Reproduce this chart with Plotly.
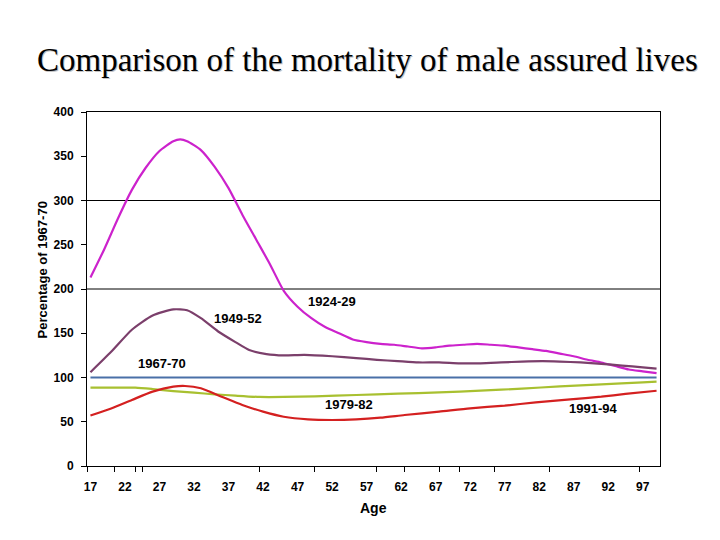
import plotly.graph_objects as go

# ---- data ----
ages_1924 = [17, 19, 21, 23, 25, 27, 29, 30, 31, 33, 35, 37, 39, 41, 43, 45, 47, 49, 51, 53, 55, 57, 59, 61, 63, 65, 67, 69, 71, 73, 75, 77, 79, 81, 83, 85, 87, 89, 91, 93, 95, 97, 99]
vals_1924 = [213, 245, 280, 312, 337, 356, 367, 369, 367, 357, 338, 314, 284, 256, 228, 198, 180, 167, 157, 150, 143, 140, 138, 137, 135, 133, 134, 136, 137, 138, 137, 136, 134, 132, 130, 127, 124, 120, 117, 113, 109, 107, 105]

ages_1949 = [17, 20, 23, 26, 29, 31, 33, 35.5, 38, 40, 42.5, 45, 48, 52, 55.5, 58.5, 61.5, 64.5, 67.5, 70.5, 73.5, 76.5, 79.5, 82.5, 85, 88, 91, 94, 97, 99]
vals_1949 = [106, 129, 154, 170, 177, 176, 167, 152, 140, 131, 126.5, 125, 125.5, 124, 122, 120, 118.5, 117, 117, 116, 116, 117, 118, 118.5, 118, 117, 115.5, 113.5, 111.5, 110]

ages_1967 = [17, 99]
vals_1967 = [100, 100]

ages_1979 = [17, 23.5, 26, 29, 32, 35, 38, 41.5, 45, 49.5, 55.5, 61.5, 67.5, 73.5, 79.5, 85, 91, 97, 99]
vals_1979 = [88.5, 88.5, 87, 84.7, 82.9, 81, 79.5, 78, 78, 78.7, 80.2, 81.7, 83.2, 85.1, 87.4, 90, 92.3, 94.5, 95.3]

ages_1991 = [17, 20, 23, 26, 29, 30.7, 33, 36, 39, 42, 45, 48.5, 52, 55.5, 59, 62.5, 67.5, 72, 77, 81.5, 86.5, 91, 94.5, 99]
vals_1991 = [57, 65, 74.6, 84, 89.6, 90.4, 87.8, 78.3, 69, 61.4, 55.7, 52.7, 52, 52.7, 54.6, 57.6, 61.4, 65.2, 68.2, 71.9, 75.3, 78.3, 81.4, 85]

x_ticks = [17, 22, 27, 32, 37, 42, 47, 52, 57, 62, 67, 72, 77, 82, 87, 92, 97]
x_tickmarks = [16.5, 20.5, 23.5, 24.5, 41.5, 49.5, 58.5, 62.5, 67.5, 70.5, 75.5, 83.5, 96.5]
y_ticks = [0, 50, 100, 150, 200, 250, 300, 350, 400]
grid_levels = [200, 300]

series_labels = ["1924-29", "1949-52", "1967-70", "1979-82", "1991-94"]
label_ages = [52.0, 38.3, 27.3, 54.4, 89.8]
label_vals = [186, 167, 116, 69, 65.5]

colors = ["#CC22CC", "#7B3F6B", "#4A70A8", "#A8C030", "#D42020"]

fig = go.Figure()
all_x = [ages_1924, ages_1949, ages_1967, ages_1979, ages_1991]
all_y = [vals_1924, vals_1949, vals_1967, vals_1979, vals_1991]

# gridlines at 200 and 300
for g in grid_levels:
    fig.add_trace(go.Scatter(x=[16.5, 99.5], y=[g, g], mode="lines",
                             line=dict(color="black", width=1), hoverinfo="skip",
                             showlegend=False))

for name, xs, ys, c in zip(series_labels, all_x, all_y, colors):
    fig.add_trace(go.Scatter(x=xs, y=ys, mode="lines", name=name,
                             line=dict(color=c, width=2.2, shape="spline", smoothing=0.6),
                             showlegend=False))

# invisible trace on overlay axis for irregular tick marks
fig.add_trace(go.Scatter(x=[16.5, 99.5], y=[0, 0], xaxis="x2", mode="lines",
                         line=dict(width=0), hoverinfo="skip", showlegend=False))

for t, ax, ay in zip(series_labels, label_ages, label_vals):
    fig.add_annotation(x=ax, y=ay, text=t, showarrow=False,
                       font=dict(family="Liberation Sans, Arial", size=13, color="black", weight="bold"))

title = "Comparison of the mortality of male assured lives"
fig.add_annotation(xref="paper", yref="paper", x=0.5, y=1, yanchor="middle", xanchor="center",
                   xshift=-5, yshift=(112 - 60) - 1, text=title, showarrow=False,
                   font=dict(family="Liberation Serif, Times New Roman", size=33, color="#C4C4C4"))
fig.add_annotation(xref="paper", yref="paper", x=0.5, y=1, yanchor="middle", xanchor="center",
                   xshift=-6, text=title, showarrow=False, yshift=(112 - 60),
                   font=dict(family="Liberation Serif, Times New Roman", size=33, color="black"))

fig.add_annotation(xref="paper", yref="y", x=0, y=221, xshift=-45, textangle=-90,
                   xanchor="center", yanchor="middle",
                   text="Percentage of 1967-70", showarrow=False,
                   font=dict(family="Liberation Sans, Arial", size=13, color="black", weight="bold"))
fig.add_annotation(xref="paper", yref="paper", x=0.5, y=0, yshift=-42, xshift=0,
                   xanchor="center", yanchor="middle",
                   text="Age", showarrow=False,
                   font=dict(family="Liberation Sans, Arial", size=14, color="black", weight="bold"))

fig.update_layout(
    width=712, height=532,
    margin=dict(l=79, r=60, t=104, b=74),
    paper_bgcolor="white", plot_bgcolor="white",
    xaxis=dict(range=[16.5, 99.5], tickvals=x_ticks, ticks="", showgrid=False,
               zeroline=False, showline=True, linecolor="black", linewidth=1, mirror=True,
               tickfont=dict(family="Liberation Sans, Arial", size=12, color="black", weight="bold"),
               ticklabelstandoff=10),
    xaxis2=dict(range=[16.5, 99.5], overlaying="x", side="bottom", tickvals=x_tickmarks,
                ticks="outside", ticklen=5, tickcolor="black", showticklabels=False,
                showgrid=False, zeroline=False, showline=False),
    yaxis=dict(range=[0, 400], tickvals=y_ticks, ticks="outside", ticklen=5, tickcolor="black",
               showgrid=False, zeroline=False, showline=True, linecolor="black", linewidth=1,
               mirror=True, ticklabelstandoff=5,
               tickfont=dict(family="Liberation Sans, Arial", size=12, color="black", weight="bold")),
)

fig.write_html("out.html")
